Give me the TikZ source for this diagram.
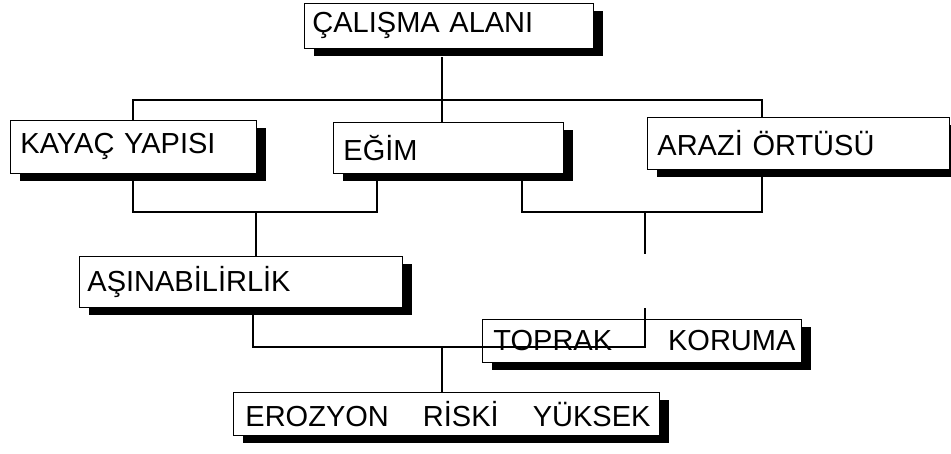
\documentclass[tikz,border=0pt]{standalone}
\usepackage{fontspec}
\setmainfont{Liberation Sans}
\usetikzlibrary{shadows,calc}
\begin{document}
\begin{tikzpicture}[x=1pt,y=-1pt,
  box/.style={draw=black, line width=0.9pt, fill=white, anchor=north west,
    inner xsep=10pt, inner ysep=0pt, align=left,
    font=\fontsize{29}{31}\selectfont,
    general shadow={fill=black, shadow xshift=10pt, shadow yshift=-8pt}},
  conn/.style={line width=1.3pt, line cap=rect}]
\useasboundingbox (0,0) rectangle (951,454);
% boxes: text width = width - 2*inner xsep
\node[box, text width=273pt, inner xsep=8pt, minimum height=45pt] (top) at (304,3) {ÇALIŞMA ALANI};
\node[box, text width=226pt, minimum height=53pt] (kayac) at (10,120) {KAYAÇ YAPISI};
\node[box, text width=210pt, minimum height=51pt] (egim) at (333,122) {EĞİM};
\node[box, text width=282pt, minimum height=52pt] (arazi) at (647,117) {ARAZİ ÖRTÜSÜ};
\node[box, text width=307pt, inner xsep=8pt, minimum height=51pt] (asin) at (79,256) {AŞINABİLİRLİK};
\node[box, text width=319pt, inner xsep=0pt, minimum height=43pt] (toprak) at (482,319) {\hspace*{11pt}TOPRAK\hfill KORUMA\hspace*{6pt}\mbox{}};
\node[box, text width=426pt, inner xsep=0pt, minimum height=43pt] (eroz) at (233,392) {\hspace*{12pt}EROZYON\hfill RİSKİ\hfill YÜKSEK\hspace*{9pt}\mbox{}};
% junction coordinates
\coordinate (t0) at (442,100);
\coordinate (tl) at (133,100);
\coordinate (tr) at (762,100);
\coordinate (bl) at (133,212);
\coordinate (bm) at (377,212);
\coordinate (ba) at (256,212);
\coordinate (cl) at (522,212);
\coordinate (cr) at (762,212);
\coordinate (cm) at (645,212);
\coordinate (cmend) at (645,253);
\coordinate (dl) at (253,347);
\coordinate (dr) at (645,347);
\coordinate (dm) at (442,347);
% top level
\draw[conn] (top.south -| t0) ++(0,9) -- (t0);
\draw[conn] (tl) -- (tr);
\draw[conn] (tl) -- (kayac.north -| tl);
\draw[conn] (t0) -- (egim.north -| t0);
\draw[conn] (tr) -- (arazi.north -| tr);
% left bracket
\draw[conn] (kayac.south -| bl) ++(0,8) -- (bl) -- (bm) -- ($(egim.south -| bm)+(0,8)$);
\draw[conn] (ba) -- (asin.north -| ba);
% right bracket
\draw[conn] (egim.south -| cl) ++(0,8) -- (cl) -- (cr) -- ($(arazi.south -| cr)+(0,8)$);
\draw[conn] (cm) -- (cmend);
% lower
\draw[conn] (asin.south -| dl) ++(0,8) -- (dl) -- (dr) -- ($(toprak.north -| dr)+(0,-10)$);
\draw[conn] (dm) -- (eroz.north -| dm);
\end{tikzpicture}
\end{document}
